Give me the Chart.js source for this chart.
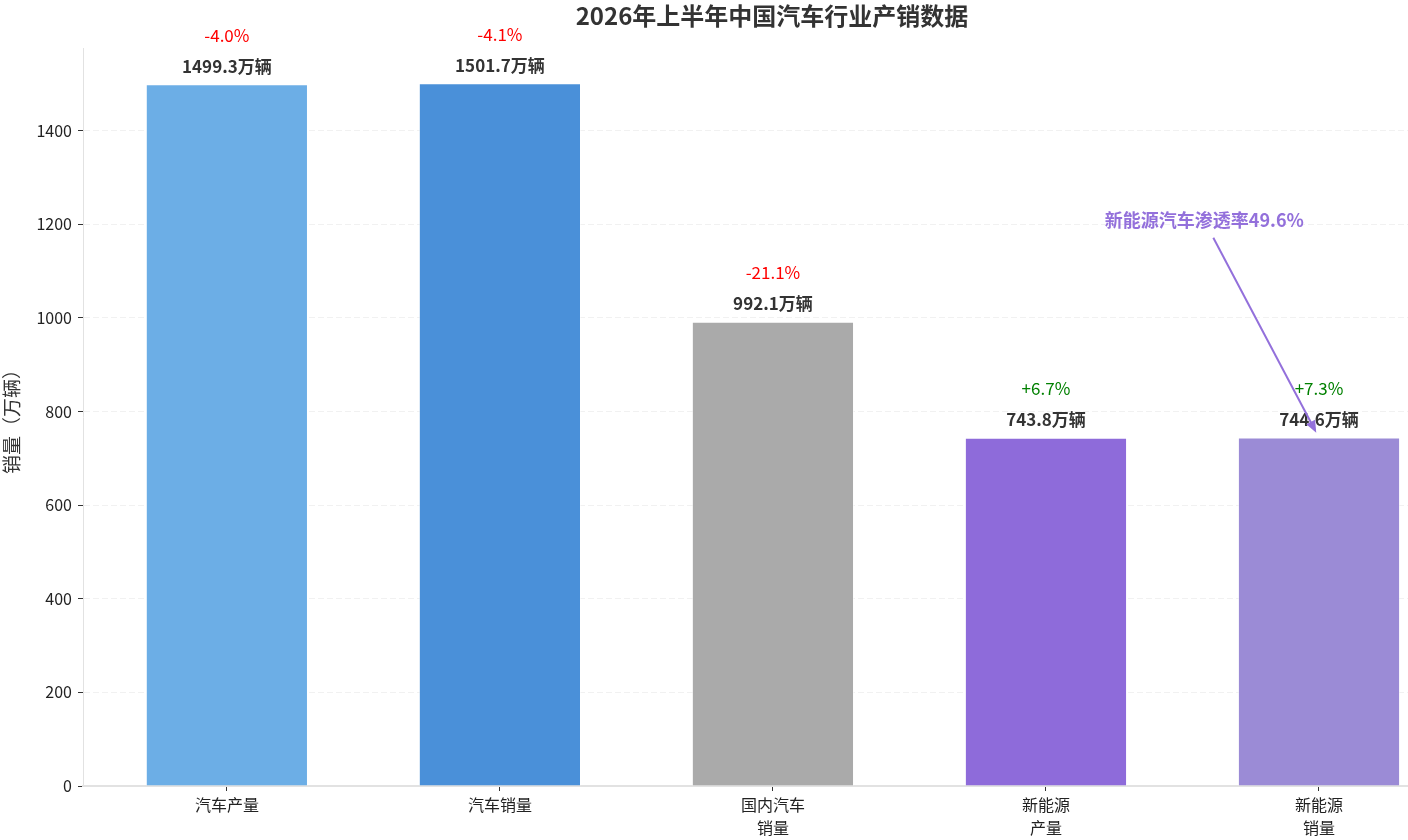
<!DOCTYPE html>
<html>
<head>
<meta charset="utf-8">
<title>2026年上半年中国汽车行业产销数据</title>
<script src="https://cdn.jsdelivr.net/npm/chart.js@4.4.1/dist/chart.umd.min.js"></script>
<style>
  html, body { margin: 0; padding: 0; background: #fff; }
  #wrap { width: 1408px; height: 840px; }
</style>
</head>
<body>
<div id="wrap"><canvas id="chart" width="1408" height="840"></canvas></div>
<script>
// data
const categories = ["汽车产量", "汽车销量", "国内汽车\n销量", "新能源\n产量", "新能源\n销量"];
const volumes    = [1499.3, 1501.7, 992.1, 743.8, 744.6];
const changes    = ["-4.0%", "-4.1%", "-21.1%", "+6.7%", "+7.3%"];
const barColors  = ["#6CAEE6", "#4A90D9", "#AAAAAA", "#8E6BDA", "#9B8BD6"];
const yTicks     = [0, 200, 400, 600, 800, 1000, 1200, 1400];
const penetration = "新能源汽车渗透率49.6%";

const FONT = "'Noto Sans CJK SC', 'Noto Sans', sans-serif";
const PURPLE = "#9370DB";

// 数值 + 同比标签
const labelPlugin = {
    id: "valueLabels",
    afterDatasetsDraw(chart) {
        const ctx = chart.ctx;
        const meta = chart.getDatasetMeta(0);
        ctx.save();
        ctx.textAlign = "center";
        ctx.textBaseline = "middle";
        meta.data.forEach((bar, i) => {
            ctx.font = `bold 17px ${FONT}`;
            ctx.fillStyle = "#333";
            ctx.fillText(volumes[i] + "万辆", bar.x, bar.y - 18);
            ctx.font = `17px ${FONT}`;
            ctx.fillStyle = changes[i].startsWith("-") ? "#ff0000" : "#008000";
            ctx.fillText(changes[i], bar.x, bar.y - 49);
        });
        ctx.restore();
    },
    afterDraw(chart) {
        const ctx = chart.ctx;
        const xs = chart.scales.x, ys = chart.scales.y;
        ctx.save();
        // 标题
        ctx.font = `bold 24px ${FONT}`;
        ctx.fillStyle = "#333";
        ctx.textAlign = "center";
        ctx.textBaseline = "middle";
        ctx.fillText("2026年上半年中国汽车行业产销数据", 772, 16);

        // 渗透率注释
        const tx = xs.getPixelForValue(3.58), ty = ys.getPixelForValue(1210);
        ctx.font = `bold 18px ${FONT}`;
        ctx.fillStyle = PURPLE;
        ctx.fillText(penetration, tx, ty);

        const x0 = tx + 9, y0 = ty + 18;
        const x1 = xs.getPixelForValue(3.99), y1 = ys.getPixelForValue(755);
        const ang = Math.atan2(y1 - y0, x1 - x0);
        ctx.strokeStyle = PURPLE;
        ctx.lineWidth = 2;
        ctx.beginPath();
        ctx.moveTo(x0, y0);
        ctx.lineTo(x1 - 8 * Math.cos(ang), y1 - 8 * Math.sin(ang));
        ctx.stroke();
        ctx.fillStyle = PURPLE;
        ctx.beginPath();
        ctx.moveTo(x1, y1);
        ctx.lineTo(x1 - 12 * Math.cos(ang) + 5 * Math.sin(ang), y1 - 12 * Math.sin(ang) - 5 * Math.cos(ang));
        ctx.lineTo(x1 - 12 * Math.cos(ang) - 5 * Math.sin(ang), y1 - 12 * Math.sin(ang) + 5 * Math.cos(ang));
        ctx.closePath();
        ctx.fill();
        ctx.restore();
    }
};

new Chart(document.getElementById("chart"), {
    type: "bar",
    data: {
        datasets: [{
            data: volumes.map((v, i) => ({ x: i, y: v })),
            backgroundColor: barColors,
            borderColor: "rgba(255,255,255,0.5)",
            borderWidth: 1,
            barPercentage: 0.594,
            categoryPercentage: 1.0,
        }]
    },
    options: {
        responsive: false,
        animation: false,
        devicePixelRatio: 1,
        layout: { padding: { top: 48, right: 0, left: 0, bottom: 0 } },
        plugins: {
            legend: { display: false },
            tooltip: { enabled: false },
            title: { display: false },
        },
        scales: {
            x: {
                type: "linear",
                offset: false,
                min: -0.527,
                max: 4.326,
                afterBuildTicks(scale) {
                    scale.ticks = categories.map((_, i) => ({ value: i }));
                },
                afterFit(scale) { scale.height = 54; },
                ticks: {
                    autoSkip: false,
                    maxRotation: 0,
                    padding: 3,
                    color: "#222",
                    font: { family: FONT, size: 16, lineHeight: 1.42 },
                    callback: (v) => categories[v] ? categories[v].split("\n") : "",
                },
                grid: {
                    offset: false,
                    drawOnChartArea: false,
                    drawTicks: true,
                    tickLength: 5,
                    tickColor: "#333",
                },
                border: { color: "#e2e2e2", width: 2 },
            },
            y: {
                min: 0,
                max: 1576.8,
                z: 1,
                afterBuildTicks(scale) {
                    scale.ticks = yTicks.map(v => ({ value: v }));
                },
                afterFit(scale) { scale.width = 83; },
                ticks: {
                    color: "#222",
                    padding: 6,
                    font: { family: FONT, size: 16 },
                    callback: (v) => String(v),
                },
                grid: {
                    color: "rgba(225,225,225,0.45)",
                    lineWidth: 1,
                    tickLength: 5,
                    tickColor: "#333",
                },
                border: { color: "#e2e2e2", width: 1, dash: [6, 3] },
                title: {
                    display: true,
                    text: "销量（万辆）",
                    color: "#333",
                    font: { family: FONT, size: 19 },
                    padding: { top: 0, bottom: 2 },
                },
            }
        }
    },
    plugins: [labelPlugin]
});
</script>
</body>
</html>
